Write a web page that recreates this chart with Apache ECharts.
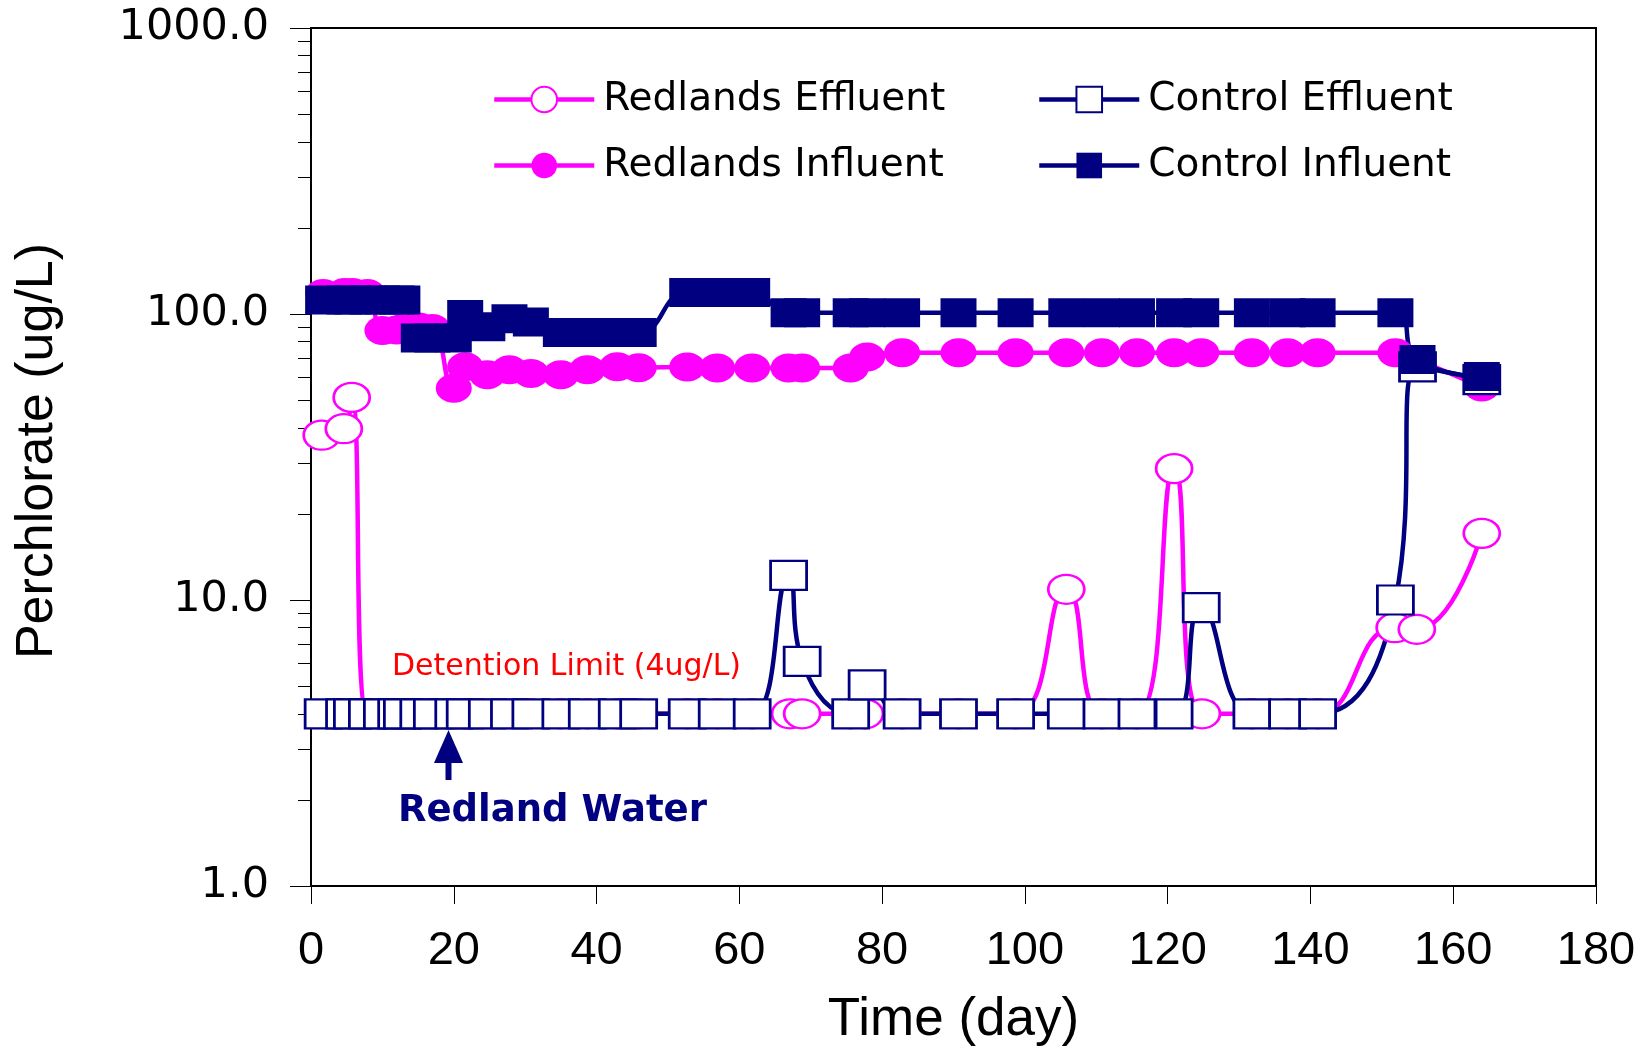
<!DOCTYPE html>
<html>
<head>
<meta charset="utf-8">
<script src="https://cdn.jsdelivr.net/npm/echarts@6/dist/echarts.min.js"></script>
<style>
  html, body { margin: 0; padding: 0; background: #fff; }
  #echart { width: 1651px; height: 1047px; }
</style>
</head>
<body>
<div id="echart"></div>
<script>
// y axis decades (log scale) and x axis range
var yTicks = [1, 10, 100, 1000];
var xMin = 0, xMax = 180, xStep = 20;

// sampling days (day) shared by three of the series
var days = [1.7, 4.7, 5.8, 7.9, 10.0, 12.0, 12.8, 15.1, 17.0, 20.0, 21.6, 24.7, 27.8, 30.8,
  35.0, 38.7, 42.9, 45.9, 52.7, 56.9, 61.8, 66.9, 68.8, 75.6, 77.9, 82.8, 90.7, 98.7,
  105.8, 110.8, 115.7, 120.9, 124.7, 131.8, 136.8, 141.0, 151.9, 155.0, 164.0];

// Redlands Effluent has its own days
var redEffDays = [1.5, 4.6, 5.7, 7.9, 10.0, 12.0, 12.8, 15.1, 17.0, 20.0, 21.6, 24.7, 27.8, 30.8,
  35.0, 38.7, 42.9, 45.9, 52.7, 56.9, 61.8, 67.1, 68.8, 75.6, 77.6, 82.8, 90.7, 98.7,
  105.8, 110.8, 115.7, 120.9, 124.8, 131.8, 136.8, 141.0, 151.8, 154.9, 164.0];
var redEffVals = [37.7, 39.7, 51.1, 4, 4, 4, 4, 4, 4, 4, 4, 4, 4, 4,
  4, 4, 4, 4, 4, 4, 4, 4, 4, 4, 4, 4, 4, 4,
  10.9, 4, 4, 28.8, 4, 4, 4, 4, 8.0, 7.9, 17.1];

var redInfVals = [118, 119, 119, 118, 87.5, 88, 89, 90, 89, 55, 65.4, 61.3, 63.8, 62,
  61.3, 63.8, 65.4, 64.9, 65.3, 64.8, 64.8, 64.8, 64.8, 64.8, 70.8, 73.2, 73.2, 73.2,
  73.2, 73.2, 73.2, 73.2, 73.2, 73.2, 73.2, 73.2, 73.2, 69, 55.6];

var ctlEffVals = [4, 4, 4, 4, 4, 4, 4, 4, 4, 4, 4, 4, 4, 4,
  4, 4, 4, 4, 4, 4, 4, 12.2, 6.1, 4, 5.05, 4, 4, 4,
  4, 4, 4, 4, 9.4, 4, 4, 4, 10.0, 65.3, 59];

var ctlInfVals = [112, 112, 112, 112, 112, 112, 112, 82.5, 82.5, 82.5, 99.5, 90.2, 96.2, 93.7,
  86.1, 86.1, 86.1, 86.1, 119, 119, 119, 101, 101, 101, 101, 101, 101, 101,
  101, 101, 101, 101, 101, 101, 101, 101, 101, 69.3, 60.4];

// positions of the 2..9 minor ticks, in decades
var minorTicks = [];
for (var d = 0; d < 3; d++) {
  for (var k = 2; k <= 9; k++) minorTicks.push(d + Math.log10(k));
}

function pairs(xs, ys) {
  return xs.map(function (x, i) { return [x, ys[i]]; });
}

var MAGENTA = '#ff00ff';
var NAVY = '#000080';
var SYM = [36, 29];

function mkSeries(name, data, color, filled, symbol) {
  return {
    name: name,
    type: 'line',
    data: data,
    smooth: 0.5,
    smoothConstraint: false,
    symbol: symbol,
    symbolSize: SYM,
    showAllSymbol: true,
    lineStyle: { color: color, width: 4.5 },
    itemStyle: filled
      ? { color: color, borderWidth: 0 }
      : { color: '#ffffff', borderColor: color, borderWidth: 2.5 },
    emphasis: { disabled: true }
  };
}

function mkLegend(name, left, top, color) {
  return {
    data: [name],
    left: left,
    top: top,
    itemWidth: 100,
    itemHeight: 32,
    selectedMode: false,
    lineStyle: { color: color, width: 4.5 },
    textStyle: {
      fontFamily: 'DejaVu Sans',
      fontSize: 39,
      color: '#000',
      lineHeight: 32,
      padding: [0, 0, 0, 4]
    }
  };
}

var option = {
  animation: false,
  backgroundColor: '#fff',
  grid: {
    left: 311, right: 55, top: 28, bottom: 161,
    outerBoundsMode: 'none',
    containLabel: false,
    show: true, borderColor: '#000', borderWidth: 2
  },
  legend: [
    mkLegend('Redlands Effluent', 487, 75, MAGENTA),
    mkLegend('Redlands Influent', 487, 141, MAGENTA),
    mkLegend('Control Effluent', 1032, 75, NAVY),
    mkLegend('Control Influent', 1032, 141, NAVY)
  ],
  xAxis: {
    type: 'value',
    min: xMin, max: xMax, interval: xStep,
    name: 'Time (day)',
    nameLocation: 'middle',
    nameGap: 108,
    nameTextStyle: { fontFamily: 'Liberation Sans', fontSize: 53, color: '#000' },
    axisLine: { lineStyle: { color: '#000', width: 2 } },
    axisTick: { inside: false, length: 18, lineStyle: { color: '#000', width: 1 } },
    axisLabel: { fontFamily: 'Liberation Sans', fontSize: 47, color: '#000', margin: 42 },
    splitLine: { show: false }
  },
  yAxis: [{
    type: 'log',
    logBase: 10,
    min: yTicks[0], max: yTicks[yTicks.length - 1],
    name: 'Perchlorate (ug/L)',
    nameLocation: 'middle',
    nameGap: 247,
    nameTextStyle: { fontFamily: 'Liberation Sans', fontSize: 52, color: '#000', padding: [0, 0, 0, 12] },
    axisLine: { lineStyle: { color: '#000', width: 2 } },
    axisTick: { inside: false, length: 21, lineStyle: { color: '#000', width: 1 } },
    axisLabel: {
      fontFamily: 'DejaVu Sans', fontSize: 43, color: '#000', margin: 42,
      formatter: function (v) { return Number(v).toFixed(1); }
    },
    splitLine: { show: false }
  }, {
    // minor ticks only
    type: 'value',
    min: 0, max: 3,
    position: 'left',
    axisLine: { show: false },
    axisLabel: { show: false },
    splitLine: { show: false },
    axisTick: {
      show: true, inside: false, length: 13,
      customValues: minorTicks,
      lineStyle: { color: '#000', width: 1 }
    }
  }],
  series: [
    mkSeries('Redlands Effluent', pairs(redEffDays, redEffVals), MAGENTA, false, 'circle'),
    mkSeries('Redlands Influent', pairs(days, redInfVals), MAGENTA, true, 'circle'),
    mkSeries('Control Effluent', pairs(days, ctlEffVals), NAVY, false, 'rect'),
    mkSeries('Control Influent', pairs(days, ctlInfVals), NAVY, true, 'rect')
  ],
  graphic: [
    {
      type: 'text', left: 392, top: 652, z: 100,
      style: { text: 'Detention Limit (4ug/L)', fill: '#ff0000', font: '30px "DejaVu Sans"' }
    },
    {
      type: 'polygon', z: 100,
      shape: { points: [[434, 763], [463, 763], [448.5, 730]] },
      style: { fill: NAVY }
    },
    {
      type: 'rect', z: 100,
      shape: { x: 445.5, y: 760, width: 6, height: 20 },
      style: { fill: NAVY }
    },
    {
      type: 'text', left: 398, top: 793, z: 100,
      style: { text: 'Redland Water', fill: NAVY, font: 'bold 37px "DejaVu Sans"' }
    }
  ]
};

var chart = echarts.init(document.getElementById('echart'));
chart.setOption(option);
</script>
</body>
</html>
